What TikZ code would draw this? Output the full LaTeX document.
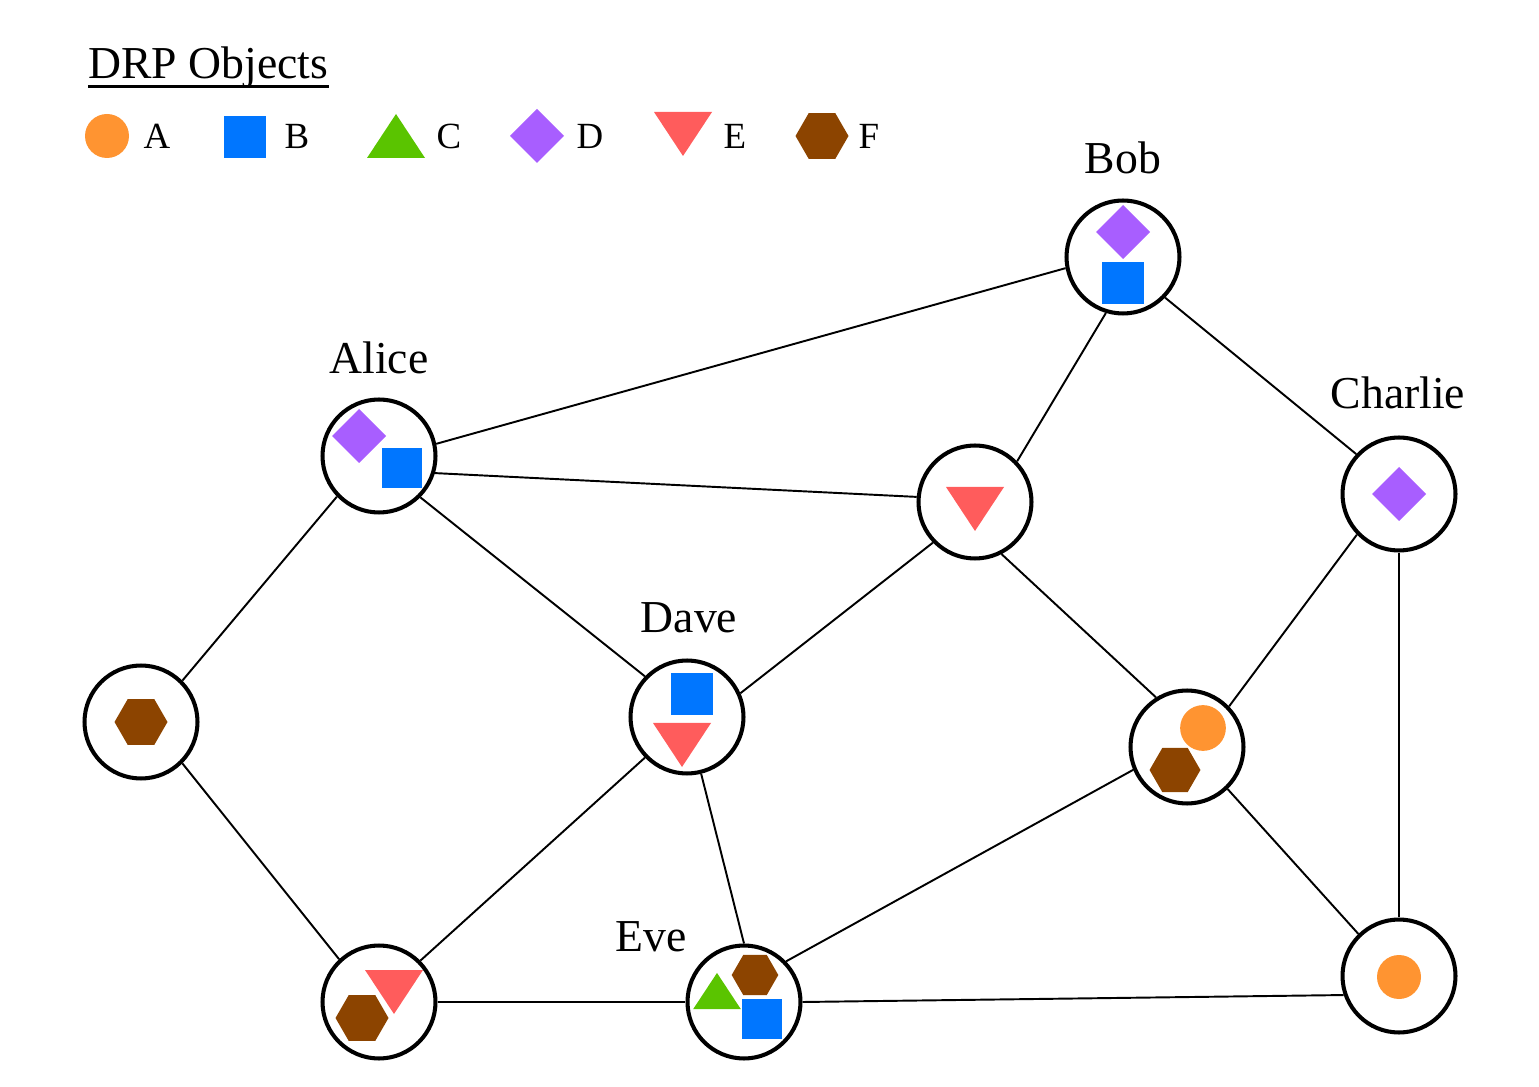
\documentclass[tikz,border=0pt]{standalone}
\usepackage{fontspec}
\setmainfont{Liberation Serif}
\usetikzlibrary{positioning}
\definecolor{ObjOrange}{HTML}{FF9431}
\definecolor{ObjBlue}{HTML}{0076FF}
\definecolor{ObjGreen}{HTML}{5AC400}
\definecolor{ObjPurple}{HTML}{A85EFF}
\definecolor{ObjRed}{HTML}{FF5C5C}
\definecolor{ObjBrown}{HTML}{8C4400}
\begin{document}
\begin{tikzpicture}[
    x=0.02cm,y=-0.02cm,
    peer/.style={circle,draw=black,line width=2.3pt,minimum size=2.26cm,inner sep=0pt},
    link/.style={line width=1.1pt},
    peerlbl/.style={font=\fontsize{26}{30}\selectfont,inner sep=0pt},
    keylbl/.style={font=\fontsize{21}{25}\selectfont,inner sep=0pt},
    objA/.pic={\fill[ObjOrange] (0,0) circle (22);},
    objB/.pic={\fill[ObjBlue] (-21,-21) rectangle (21,21);},
    objC/.pic={\fill[ObjGreen] (-29,22) -- (29,22) -- (0,-22) -- cycle;},
    objD/.pic={\fill[ObjPurple] (0,-27) -- (27,0) -- (0,27) -- (-27,0) -- cycle;},
    objE/.pic={\fill[ObjRed] (-29,-22) -- (29,-22) -- (0,22) -- cycle;},
    objF/.pic={\fill[ObjBrown] (0:26.5) \foreach \a in {60,120,...,300}{ -- (\a:26.5)} -- cycle;}
  ]
  \useasboundingbox (0,0) rectangle (1539,1087);
  % legend
  \node[peerlbl,anchor=base west] (title) at (88,79) {DRP Objects};
  \draw[line width=1.6pt] ([yshift=-4.2pt]title.base west) -- ([yshift=-4.2pt]title.base east);
  \pic at (107,136) {objA};
  \node[keylbl] (keyA) at (157,136) {A};
  \pic at (245,137) {objB};
  \node[keylbl] (keyB) at (297,136) {B};
  \pic at (396,136) {objC};
  \node[keylbl] (keyC) at (449,136) {C};
  \pic at (537,136) {objD};
  \node[keylbl] (keyD) at (590,136) {D};
  \pic at (683,134) {objE};
  \node[keylbl] (keyE) at (735,136) {E};
  \pic at (822,136) {objF};
  \node[keylbl] (keyF) at (869,136) {F};
  % peers
  \node[peer] (bob) at (1123,257) {};
  \node[peer] (alice) at (379,456) {};
  \node[peer] (nodeE) at (975,502) {};
  \node[peer] (charlie) at (1399,494) {};
  \node[peer] (nodeF) at (141,722) {};
  \node[peer] (dave) at (687,717) {};
  \node[peer] (nodeAF) at (1187,747) {};
  \node[peer] (nodeEF) at (379,1002) {};
  \node[peer] (eve) at (744,1002) {};
  \node[peer] (nodeA) at (1399,976) {};
  \node[peerlbl] (boblbl) at (1123,158) {Bob};
  \node[peerlbl] (alicelbl) at (379,358) {Alice};
  \node[peerlbl] (charlielbl) at (1398,393) {Charlie};
  \node[peerlbl] (davelbl) at (689,618) {Dave};
  \node[peerlbl] (evelbl) at (651,937) {Eve};
  % stored objects
  \pic at (1123,232) {objD};
  \pic at (1123,283) {objB};
  \pic at (359,436) {objD};
  \pic[scale=0.96] at (402,468) {objB};
  \pic at (975,509) {objE};
  \pic at (1399,494) {objD};
  \pic at (141,722) {objF};
  \pic at (692,694) {objB};
  \pic at (682,745) {objE};
  \pic[scale=1.04] at (1203,728) {objA};
  \pic[scale=0.96] at (1175,770) {objF};
  \pic at (394,992) {objE};
  \pic at (362,1018) {objF};
  \pic[scale=0.88] at (755,975) {objF};
  \pic[scale=0.82] at (717,991) {objC};
  \pic[scale=0.96] at (762,1019) {objB};
  \pic at (1399,977) {objA};
  % links
  \draw[link] (bob.191) -- (alice.12);
  \draw[link] (bob.253) -- (nodeE.44);
  \draw[link] (bob.316) -- (charlie.137);
  \draw[link] (alice.343) -- (nodeE.175);
  \draw[link] (alice.224) -- (nodeF.45);
  \draw[link] (alice.315) -- (dave.136);
  \draw[link] (nodeE.224) -- (dave.24);
  \draw[link] (nodeE.297) -- (nodeAF.122);
  \draw[link] (charlie.224) -- (nodeAF.44);
  \draw[link] (charlie.270) -- (nodeA.90);
  \draw[link] (nodeF.315) -- (nodeEF.133);
  \draw[link] (dave.224) -- (nodeEF.45);
  \draw[link] (dave.284) -- (eve.90);
  \draw[link] (nodeAF.203) -- (eve.44);
  \draw[link] (nodeAF.314) -- (nodeA.134);
  \draw[link] (nodeEF.0) -- (eve.180);
  \draw[link] (eve.0) -- (nodeA.199);
\end{tikzpicture}
\end{document}
